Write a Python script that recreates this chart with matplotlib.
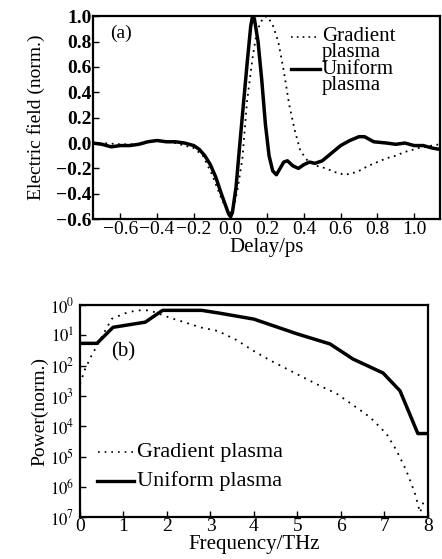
import numpy as np
import matplotlib.pyplot as plt

plt.rcParams['font.family'] = ['Liberation Serif', 'DejaVu Serif']
plt.rcParams['mathtext.fontset'] = 'stix'

# (a) time-domain electric field
delay_uniform = [-0.75, -0.7, -0.65, -0.6, -0.55, -0.5, -0.45, -0.4, -0.35, -0.3, -0.25, -0.2,
                 -0.17, -0.14, -0.11, -0.08, -0.05, -0.03, -0.01, 0.0, 0.01, 0.03, 0.05, 0.07,
                 0.09, 0.11, 0.12, 0.13, 0.15, 0.17, 0.19, 0.21, 0.23, 0.25, 0.27, 0.29, 0.31,
                 0.34, 0.37, 0.40, 0.43, 0.46, 0.5, 0.55, 0.6, 0.65, 0.7, 0.73, 0.78, 0.85,
                 0.9, 0.95, 1.0, 1.05, 1.1, 1.14]
field_uniform = [0.0, -0.01, -0.03, -0.02, -0.02, -0.01, 0.01, 0.02, 0.01, 0.01, 0.0, -0.02,
                 -0.05, -0.1, -0.17, -0.27, -0.4, -0.48, -0.56, -0.58, -0.55, -0.35, -0.02, 0.3,
                 0.62, 0.92, 1.0, 0.98, 0.8, 0.5, 0.15, -0.1, -0.22, -0.25, -0.2, -0.15, -0.14,
                 -0.18, -0.2, -0.17, -0.15, -0.16, -0.14, -0.08, -0.02, 0.02, 0.05, 0.05, 0.01,
                 0.0, -0.01, 0.0, -0.02, -0.02, -0.04, -0.05]

delay_gradient = [-0.75, -0.7, -0.6, -0.5, -0.4, -0.3, -0.2, -0.15, -0.1, -0.06, -0.03, 0.0,
                  0.02, 0.04, 0.065, 0.09, 0.12, 0.14, 0.16, 0.18, 0.2, 0.23, 0.26, 0.29, 0.32,
                  0.35, 0.38, 0.42, 0.47, 0.52, 0.57, 0.62, 0.66, 0.7, 0.75, 0.8, 0.85, 0.9,
                  0.95, 1.0, 1.05, 1.1, 1.14]
field_gradient = [-0.01, 0.0, -0.01, -0.01, 0.02, 0.0, -0.04, -0.1, -0.25, -0.4, -0.5, -0.55,
                  -0.5, -0.35, -0.12, 0.33, 0.67, 0.85, 0.94, 0.99, 1.0, 0.93, 0.8, 0.57, 0.3,
                  0.1, -0.06, -0.14, -0.18, -0.2, -0.23, -0.25, -0.24, -0.22, -0.18, -0.15,
                  -0.12, -0.1, -0.07, -0.05, -0.03, -0.02, -0.01]

# (b) power spectrum, exponents of 10
freq_uniform = [0.0, 0.39, 0.76, 1.5, 1.9, 2.8, 3.2, 4.0, 5.0, 5.75, 6.28, 6.97, 7.36, 7.77, 8.0]
logp_uniform = [-1.26, -1.26, -0.73, -0.56, -0.17, -0.17, -0.26, -0.46, -0.95, -1.28, -1.78,
                -2.24, -2.83, -4.24, -4.24]

freq_gradient = [0.0, 0.12, 0.27, 0.46, 0.73, 1.03, 1.3, 1.6, 2.1, 2.4, 2.76, 3.17, 3.6, 3.98,
                 4.37, 4.75, 5.13, 5.5, 5.9, 6.28, 6.67, 7.05, 7.28, 7.5, 7.7, 7.82, 7.9]
logp_gradient = [-2.6, -2.1, -1.65, -1.15, -0.45, -0.27, -0.17, -0.17, -0.43, -0.56, -0.73,
                 -0.85, -1.15, -1.5, -1.82, -2.1, -2.38, -2.65, -2.92, -3.3, -3.7, -4.25, -4.8,
                 -5.45, -6.2, -6.85, -6.5]

delay_ticks = [-0.6, -0.4, -0.2, 0.0, 0.2, 0.4, 0.6, 0.8, 1.0]
field_ticks = [-0.6, -0.4, -0.2, 0.0, 0.2, 0.4, 0.6, 0.8, 1.0]
power_ticks = [1e0, 1e-1, 1e-2, 1e-3, 1e-4, 1e-5, 1e-6, 1e-7]
power_tick_labels = ['$10^{0}$', '$10^{1}$', '$10^{2}$', '$10^{3}$', '$10^{4}$', '$10^{5}$',
                     '$10^{6}$', '$10^{7}$']

dots = (0, (1, 2.5))

fig = plt.figure(figsize=(4.42, 5.59), dpi=100)
ax1 = fig.add_axes([0.210, 0.608, 0.785, 0.363])
ax2 = fig.add_axes([0.181, 0.075, 0.787, 0.379])

# --- panel (a)
ax1.plot(delay_gradient, field_gradient, color='black', lw=1.3, linestyle=dots)
ax1.plot(delay_uniform, field_uniform, color='black', lw=2.5, solid_joinstyle='round')
ax1.set_xlim(-0.75, 1.14)
ax1.set_ylim(-0.6, 1.0)
ax1.set_xticks(delay_ticks)
ax1.set_yticks(field_ticks)
ax1.set_xticklabels([f'{v:.1f}'.replace('-', '\u2212') for v in delay_ticks], fontsize=14)
ax1.set_yticklabels([f'{v:.1f}'.replace('-', '\u2212') for v in field_ticks], fontsize=14,
                    fontweight='bold')
ax1.tick_params(direction='in', length=4, width=1, pad=1)
ax1.set_xlabel('Delay/ps', fontsize=15, labelpad=0)
ax1.set_ylabel('Electric field (norm.)', fontsize=14, labelpad=8)
ax1.text(0.05, 0.915, '(a)', transform=ax1.transAxes, fontsize=14, va='center')

# hand-made legend, handle beside first line of each label
ax1.plot([0.57, 0.655], [0.90, 0.90], transform=ax1.transAxes, color='black', lw=1.2,
         linestyle=dots)
ax1.text(0.66, 0.945, 'Gradient\nplasma', transform=ax1.transAxes, fontsize=15, va='top',
         linespacing=0.78)
ax1.plot([0.57, 0.655], [0.74, 0.74], transform=ax1.transAxes, color='black', lw=2.4)
ax1.text(0.66, 0.785, 'Uniform\nplasma', transform=ax1.transAxes, fontsize=15, va='top',
         linespacing=0.78)

# --- panel (b)
ax2.semilogy(freq_gradient, np.power(10.0, logp_gradient), color='black', lw=1.3,
             linestyle=(0, (1, 3)))
ax2.semilogy(freq_uniform, np.power(10.0, logp_uniform), color='black', lw=2.5,
             solid_joinstyle='round')
ax2.set_xlim(0, 8)
ax2.set_ylim(1e-7, 1e0)
ax2.set_xticks(range(9))
ax2.set_xticklabels([str(i) for i in range(9)], fontsize=14)
ax2.set_yticks(power_ticks)
ax2.set_yticklabels(power_tick_labels, fontsize=12)
ax2.minorticks_off()
ax2.tick_params(direction='in', length=4, width=1)
ax2.tick_params(axis='x', pad=1)
ax2.tick_params(axis='y', pad=4)
ax2.set_xlabel('Frequency/THz', fontsize=15, labelpad=0)
ax2.set_ylabel('Power(norm.)', fontsize=14, labelpad=1)
ax2.text(0.09, 0.78, '(b)', transform=ax2.transAxes, fontsize=15, va='center')

ax2.plot([0.052, 0.158], [0.307, 0.307], transform=ax2.transAxes, color='black', lw=1.2,
         linestyle=(0, (1, 3)))
ax2.text(0.165, 0.307, 'Gradient plasma', transform=ax2.transAxes, fontsize=16, va='center')
ax2.plot([0.05, 0.155], [0.17, 0.17], transform=ax2.transAxes, color='black', lw=2.4)
ax2.text(0.165, 0.17, 'Uniform plasma', transform=ax2.transAxes, fontsize=16, va='center')

for ax in (ax1, ax2):
    for s in ax.spines.values():
        s.set_linewidth(1.6)

fig.savefig('out.png', dpi=100)
